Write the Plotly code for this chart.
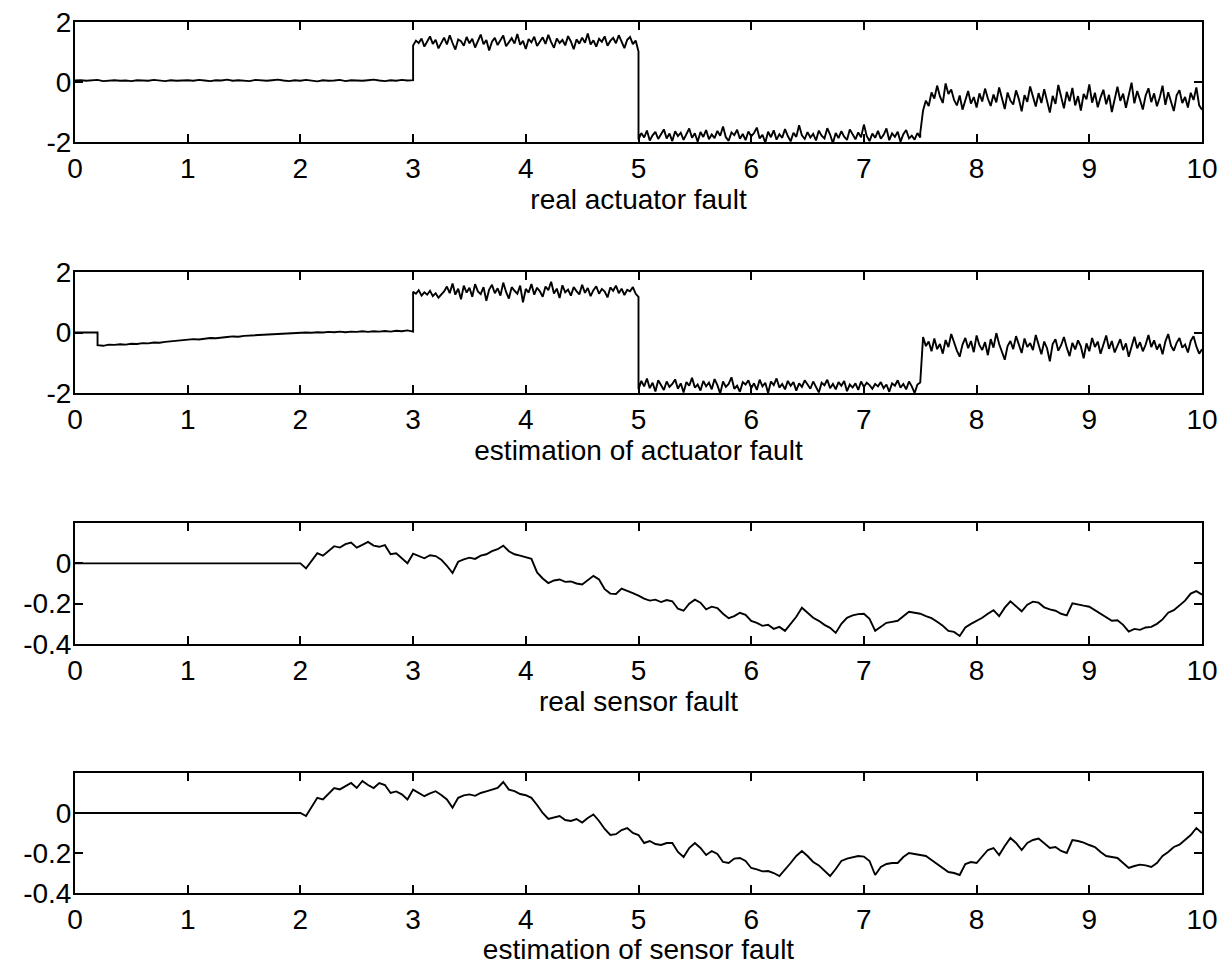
import numpy as np
import plotly.graph_objects as go
from plotly.subplots import make_subplots

# ---- data ----------------------------------------------------------------
titles = ["real actuator fault", "estimation of actuator fault",
          "real sensor fault", "estimation of sensor fault"]
x_ticks = [0, 1, 2, 3, 4, 5, 6, 7, 8, 9, 10]

# real actuator fault, four pieces (0-3, 3-5, 5-7.5, 7.5-10)
real_act_calm = [0.05, 0.06, 0.04, 0.05, 0.07, 0.03, 0.05, 0.06, 0.04, 0.05, 0.03, 0.06, 0.05, 0.04, 0.07,
                 0.05, 0.03, 0.06, 0.04, 0.05, 0.06, 0.04, 0.07, 0.05, 0.03, 0.06, 0.05, 0.08, 0.04, 0.06,
                 0.05, 0.03, 0.07, 0.05, 0.04, 0.06, 0.08, 0.05, 0.03, 0.06, 0.04, 0.07, 0.05, 0.02, 0.06,
                 0.04, 0.05, 0.07, 0.03, 0.06, 0.05, 0.04, 0.06, 0.08, 0.05, 0.03, 0.06, 0.04, 0.07, 0.05, 0.06]
real_act_high = [1.22, 1.38, 1.30, 1.45, 1.18, 1.35, 1.52, 1.27, 1.41, 1.12, 1.33, 1.48, 1.25, 1.56, 1.30,
                 1.08, 1.42, 1.36, 1.21, 1.50, 1.29, 1.44, 1.15, 1.38, 1.58, 1.26, 1.40, 1.05, 1.34, 1.47,
                 1.23, 1.39, 1.55, 1.19, 1.31, 1.46, 1.28, 1.60, 1.24, 1.37, 1.10, 1.43, 1.32, 1.51, 1.20,
                 1.36, 1.49, 1.27, 1.57, 1.33, 1.14, 1.45, 1.30, 1.40, 1.22, 1.53, 1.35, 1.09, 1.42, 1.28,
                 1.48, 1.31, 1.62, 1.25, 1.39, 1.18, 1.44, 1.34, 1.52, 1.21, 1.37, 1.47, 1.29, 1.56, 1.32,
                 1.13, 1.41, 1.50, 1.26, 1.38, 1.02]
real_act_low = [-1.92, -1.70, -1.85, -1.62, -1.95, -1.78, -1.66, -1.90, -1.74, -1.58, -1.88, -1.72, -1.97,
                -1.64, -1.80, -1.69, -1.93, -1.76, -1.55, -1.86, -1.71, -1.99, -1.67, -1.83, -1.60, -1.91,
                -1.75, -1.87, -1.63, -1.79, -1.48, -1.84, -1.96, -1.68, -1.77, -1.59, -1.89, -1.73, -1.94,
                -1.65, -1.81, -1.70, -1.52, -1.88, -1.76, -2.02, -1.66, -1.84, -1.61, -1.92, -1.74, -1.86,
                -1.57, -1.80, -1.98, -1.69, -1.83, -1.44, -1.78, -1.90, -1.67, -1.85, -1.73, -1.95, -1.62,
                -1.79, -1.88, -1.54, -1.75, -2.04, -1.70, -1.87, -1.64, -1.82, -1.93, -1.58, -1.77, -1.91,
                -1.68, -1.84, -1.42, -1.80, -1.97, -1.72, -1.86, -1.63, -1.89, -1.76, -1.55, -1.94, -1.71,
                -1.83, -1.66, -1.99, -1.74, -1.60, -1.88, -1.79, -1.92, -1.70, -1.85]
real_act_mid = [-1.70, -0.95, -0.62, -0.80, -0.35, -0.55, -0.12, -0.48, -0.70, -0.05, -0.40, -0.25, -0.60,
                -0.78, -0.45, -0.92, -0.58, -0.30, -0.72, -0.50, -0.85, -0.38, -0.65, -0.22, -0.55, -0.80,
                -0.42, -0.68, -0.18, -0.52, -0.90, -0.35, -0.62, -0.75, -0.28, -0.57, -0.98, -0.44, -0.66,
                -0.15, -0.50, -0.82, -0.37, -0.70, -0.24, -0.60, -1.02, -0.46, -0.73, -0.10, -0.53, -0.88,
                -0.33, -0.64, -0.20, -0.78, -0.47, -0.95, -0.40, -0.58, -0.08, -0.69, -0.36, -0.84, -0.51,
                -0.26, -0.74, -0.43, -1.00, -0.55, -0.16, -0.63, -0.39, -0.86, -0.48, -0.02, -0.71, -0.30,
                -0.59, -0.92, -0.45, -0.21, -0.67, -0.38, -0.81, -0.52, -0.12, -0.76, -0.34, -0.62, -0.97,
                -0.44, -0.27, -0.70, -0.50, -0.85, -0.36, -0.60, -0.18, -0.78, -0.92]

# estimation of actuator fault (0-0.2, 0.2-3, 3-5, 5-7.5, 7.5-10)
est_act_start = [0.0, 0.0]
est_act_ramp = [-0.42, -0.44, -0.40, -0.41, -0.39, -0.40, -0.37, -0.38, -0.35, -0.36, -0.33, -0.34, -0.31,
                -0.29, -0.28, -0.26, -0.24, -0.22, -0.23, -0.20, -0.18, -0.19, -0.16, -0.15, -0.13, -0.14,
                -0.11, -0.10, -0.08, -0.09, -0.06, -0.05, -0.04, -0.05, -0.02, -0.03, -0.01, 0.00, -0.01,
                0.01, 0.00, 0.02, 0.01, 0.03, 0.01, 0.03, 0.02, 0.04, 0.02, 0.04, 0.03, 0.05, 0.03, 0.06,
                0.04, 0.07, 0.03]
est_act_high = [1.35, 1.28, 1.40, 1.22, 1.33, 1.25, 1.38, 1.20, 1.30, 1.15, 1.24, 1.36, 1.52, 1.30, 1.62,
                1.25, 1.45, 1.10, 1.55, 1.32, 1.48, 1.18, 1.60, 1.36, 1.27, 1.50, 1.05, 1.42, 1.58, 1.30,
                1.46, 1.22, 1.65, 1.34, 1.12, 1.50, 1.38, 1.28, 1.55, 1.00, 1.44, 1.32, 1.60, 1.25, 1.48,
                1.36, 1.18, 1.52, 1.40, 1.68, 1.29, 1.45, 1.14, 1.56, 1.33, 1.42, 1.22, 1.50, 1.37, 1.26,
                1.58, 1.31, 1.47, 1.20, 1.40, 1.53, 1.28, 1.44, 1.35, 1.16, 1.49, 1.38, 1.55, 1.30, 1.45,
                1.24, 1.41, 1.36, 1.50, 1.28, 1.18]
est_act_low = [-1.88, -1.60, -1.78, -1.52, -1.84, -1.66, -1.95, -1.58, -1.74, -1.90, -1.62, -1.80, -1.70,
               -1.55, -1.86, -1.68, -1.98, -1.64, -1.76, -1.50, -1.82, -1.72, -1.92, -1.60, -1.78, -1.66,
               -1.88, -1.54, -1.74, -2.02, -1.62, -1.80, -1.70, -1.48, -1.86, -1.76, -1.96, -1.64, -1.72,
               -1.58, -1.84, -1.68, -1.90, -1.56, -1.78, -1.66, -2.00, -1.62, -1.74, -1.52, -1.82, -1.70,
               -1.88, -1.60, -1.76, -1.64, -1.92, -1.68, -1.80, -1.58, -1.72, -1.86, -1.62, -1.78, -1.98,
               -1.66, -1.74, -1.56, -1.84, -1.70, -1.88, -1.64, -1.76, -1.60, -1.94, -1.72, -1.82, -1.68,
               -1.90, -1.62, -1.80, -1.66, -1.74, -1.86, -1.70, -1.78, -1.64, -1.84, -1.72, -1.96, -1.68,
               -1.76, -1.58, -1.82, -1.70, -1.88, -1.62, -1.78, -2.00, -1.72, -1.66]
est_act_mid = [-1.65, -0.15, -0.45, -0.30, -0.62, -0.20, -0.55, -0.38, -0.70, -0.25, -0.48, -0.05, -0.35,
               -0.60, -0.80, -0.40, -0.18, -0.52, -0.28, -0.65, -0.10, -0.42, -0.58, -0.32, -0.75, -0.22,
               -0.50, -0.02, -0.38, -0.62, -0.90, -0.45, -0.28, -0.55, -0.12, -0.40, -0.68, -0.20, -0.48,
               -0.35, -0.58, -0.08, -0.44, -0.72, -0.30, -0.52, -0.95, -0.38, -0.22, -0.60, -0.42, -0.15,
               -0.50, -0.78, -0.34, -0.56, -0.26, -0.46, -0.85, -0.36, -0.62, -0.18, -0.48, -0.30, -0.70,
               -0.40, -0.10, -0.54, -0.28, -0.66, -0.44, -0.22, -0.58, -0.36, -0.80, -0.46, -0.14, -0.52,
               -0.32, -0.62, -0.40, -0.08, -0.48, -0.26, -0.56, -0.38, -0.72, -0.30, -0.05, -0.44, -0.60,
               -0.34, -0.18, -0.50, -0.40, -0.66, -0.28, -0.12, -0.46, -0.70, -0.55]

# sensor faults: flat 0 until t=2, then one value every 0.05 s up to t=10
sensor_quiet = [0.0, 0.0]
real_sensor = [0.000, -0.025, 0.010, 0.050, 0.038, 0.062, 0.085, 0.078, 0.095, 0.103, 0.078, 0.092, 0.106,
               0.088, 0.082, 0.090, 0.045, 0.050, 0.025, 0.000, 0.048, 0.035, 0.025, 0.040, 0.036, 0.018,
               -0.012, -0.048, 0.008, 0.020, 0.028, 0.022, 0.038, 0.045, 0.060, 0.070, 0.088, 0.060, 0.045,
               0.038, 0.030, 0.022, -0.045, -0.075, -0.098, -0.085, -0.080, -0.092, -0.090, -0.100, -0.105,
               -0.085, -0.062, -0.080, -0.128, -0.150, -0.152, -0.125, -0.135, -0.148, -0.160, -0.175,
               -0.185, -0.180, -0.192, -0.182, -0.188, -0.225, -0.235, -0.200, -0.180, -0.195, -0.228,
               -0.215, -0.222, -0.250, -0.272, -0.262, -0.245, -0.255, -0.285, -0.295, -0.310, -0.305,
               -0.325, -0.315, -0.335, -0.300, -0.265, -0.220, -0.245, -0.270, -0.285, -0.305, -0.320,
               -0.345, -0.300, -0.270, -0.258, -0.252, -0.250, -0.275, -0.335, -0.315, -0.295, -0.290,
               -0.285, -0.262, -0.240, -0.245, -0.250, -0.262, -0.272, -0.290, -0.310, -0.335, -0.340,
               -0.360, -0.318, -0.300, -0.285, -0.270, -0.250, -0.232, -0.262, -0.220, -0.188, -0.215,
               -0.238, -0.205, -0.190, -0.195, -0.218, -0.228, -0.235, -0.250, -0.258, -0.198, -0.205,
               -0.210, -0.215, -0.232, -0.250, -0.268, -0.285, -0.282, -0.305, -0.338, -0.325, -0.330,
               -0.318, -0.315, -0.300, -0.278, -0.245, -0.232, -0.210, -0.185, -0.150, -0.138, -0.155]
est_sensor = [0.000, -0.015, 0.030, 0.076, 0.068, 0.095, 0.125, 0.118, 0.134, 0.150, 0.125, 0.160, 0.140,
              0.125, 0.150, 0.140, 0.100, 0.108, 0.093, 0.068, 0.117, 0.100, 0.084, 0.098, 0.109, 0.090,
              0.068, 0.026, 0.076, 0.088, 0.093, 0.086, 0.100, 0.108, 0.117, 0.125, 0.155, 0.117, 0.109,
              0.095, 0.089, 0.076, 0.040, 0.000, -0.030, -0.022, -0.015, -0.035, -0.040, -0.030, -0.048,
              -0.025, -0.007, -0.040, -0.080, -0.110, -0.106, -0.085, -0.075, -0.100, -0.110, -0.150,
              -0.140, -0.155, -0.160, -0.150, -0.150, -0.195, -0.220, -0.175, -0.150, -0.175, -0.210,
              -0.190, -0.205, -0.245, -0.250, -0.228, -0.225, -0.240, -0.275, -0.282, -0.292, -0.290,
              -0.300, -0.315, -0.285, -0.250, -0.215, -0.190, -0.215, -0.245, -0.262, -0.290, -0.315,
              -0.280, -0.240, -0.228, -0.220, -0.215, -0.218, -0.240, -0.310, -0.270, -0.255, -0.250,
              -0.250, -0.220, -0.200, -0.205, -0.210, -0.215, -0.235, -0.255, -0.275, -0.295, -0.300,
              -0.310, -0.255, -0.245, -0.250, -0.220, -0.185, -0.175, -0.210, -0.165, -0.125, -0.150,
              -0.185, -0.150, -0.135, -0.128, -0.150, -0.175, -0.170, -0.190, -0.200, -0.135, -0.140,
              -0.148, -0.160, -0.170, -0.195, -0.215, -0.220, -0.225, -0.250, -0.275, -0.265, -0.258,
              -0.262, -0.270, -0.250, -0.215, -0.195, -0.170, -0.158, -0.135, -0.110, -0.075, -0.100]


def pieces(parts):
    # parts: list of (t_start, t_end, values); each piece is spread evenly over its span
    t, y = [], []
    for t0, t1, vals in parts:
        t.extend(np.linspace(t0, t1, len(vals)))
        y.extend(vals)
    return t, y


series = [
    pieces([(0, 3, real_act_calm), (3, 5, real_act_high), (5, 7.5, real_act_low), (7.5, 10, real_act_mid)]),
    pieces([(0, 0.2, est_act_start), (0.2, 3, est_act_ramp), (3, 5, est_act_high),
            (5, 7.5, est_act_low), (7.5, 10, est_act_mid)]),
    pieces([(0, 2, sensor_quiet), (2, 10, real_sensor)]),
    pieces([(0, 2, sensor_quiet), (2, 10, est_sensor)]),
]
y_ranges = [[-2, 2], [-2, 2], [-0.4, 0.2], [-0.4, 0.2]]
y_ticks = [[-2, 0, 2], [-2, 0, 2], [-0.4, -0.2, 0], [-0.4, -0.2, 0]]
y_ticktext = [["-2", "0", "2"], ["-2", "0", "2"], ["-0.4", "-0.2", "0"], ["-0.4", "-0.2", "0"]]

# ---- figure ----------------------------------------------------------------
# the page body has an 8px margin on every side, so the figure is 16px smaller
# than the window; pixel positions below are measured from the figure's corner
W, H = 1213, 957
left, right = 67, 1194
boxes = [(14, 134), (264, 385), (515, 636), (765, 885)]  # top/bottom pixel rows

fig = make_subplots(rows=4, cols=1)
font = dict(family="Liberation Sans, Arial, Helvetica, sans-serif", size=28, color="black")

for i, (t, y) in enumerate(series, 1):
    fig.add_trace(go.Scatter(x=t, y=y, mode="lines", line=dict(color="black", width=1.9),
                             showlegend=False, hoverinfo="skip"), row=i, col=1)
    top, bot = boxes[i - 1]
    ax = dict(showline=True, linecolor="black", linewidth=2, mirror="ticks", ticks="inside",
              ticklen=8, tickwidth=1.5, tickcolor="black", showgrid=False, zeroline=False,
              tickfont=font, automargin=False, ticklabeloverflow="allow")
    fig.update_xaxes(ax, range=[0, 10], tickvals=x_ticks, domain=[left / W, right / W],
                     title=dict(text=titles[i - 1], font=font, standoff=0), row=i, col=1)
    fig.update_yaxes(ax, range=y_ranges[i - 1], tickvals=y_ticks[i - 1], ticktext=y_ticktext[i - 1],
                     ticklabelstandoff=-4, domain=[1 - bot / H, 1 - top / H], row=i, col=1)

fig.update_layout(width=W, height=H, margin=dict(l=0, r=0, t=0, b=0),
                  paper_bgcolor="white", plot_bgcolor="white", font=font)
fig.write_html("out.html")
